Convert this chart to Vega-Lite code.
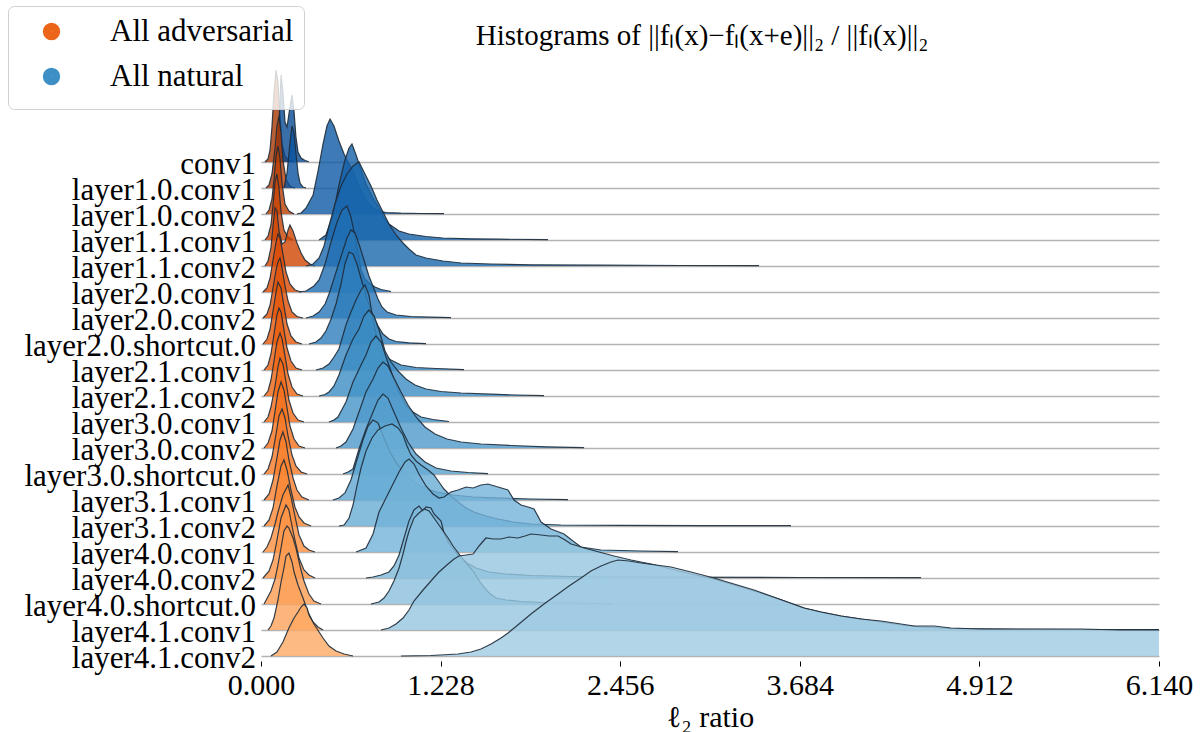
{
"$schema":"https://vega.github.io/schema/vega-lite/v6.json",
"background":"white",
"bounds":"flush",
"padding":{"left":7,"top":5,"right":10,"bottom":5},
"title":{"text":"Histograms of ||fₗ(x)−fₗ(x+e)||₂ / ||fₗ(x)||₂","font":"Liberation Serif","fontSize":29,"fontWeight":"normal","color":"black","anchor":"middle","offset":-45,"dx":102},
"data":{"values":[
{"l":"conv1","s":"a","x":0.027,"d":0},{"l":"conv1","s":"a","x":0.048,"d":3},{"l":"conv1","s":"a","x":0.062,"d":12},{"l":"conv1","s":"a","x":0.075,"d":35},{"l":"conv1","s":"a","x":0.089,"d":70},{"l":"conv1","s":"a","x":0.103,"d":92},{"l":"conv1","s":"a","x":0.116,"d":80},{"l":"conv1","s":"a","x":0.130,"d":45},{"l":"conv1","s":"a","x":0.144,"d":18},{"l":"conv1","s":"a","x":0.164,"d":6},{"l":"conv1","s":"a","x":0.191,"d":1.5},{"l":"conv1","s":"a","x":0.226,"d":0},
{"l":"conv1","s":"n","x":0.096,"d":0},{"l":"conv1","s":"n","x":0.116,"d":20},{"l":"conv1","s":"n","x":0.130,"d":60},{"l":"conv1","s":"n","x":0.137,"d":87},{"l":"conv1","s":"n","x":0.150,"d":70},{"l":"conv1","s":"n","x":0.164,"d":40},{"l":"conv1","s":"n","x":0.178,"d":35},{"l":"conv1","s":"n","x":0.198,"d":55},{"l":"conv1","s":"n","x":0.212,"d":67},{"l":"conv1","s":"n","x":0.226,"d":50},{"l":"conv1","s":"n","x":0.239,"d":25},{"l":"conv1","s":"n","x":0.253,"d":10},{"l":"conv1","s":"n","x":0.274,"d":4},{"l":"conv1","s":"n","x":0.301,"d":1.5},{"l":"conv1","s":"n","x":0.328,"d":0.3},
{"l":"layer1.0.conv1","s":"a","x":0.034,"d":0},{"l":"layer1.0.conv1","s":"a","x":0.055,"d":3},{"l":"layer1.0.conv1","s":"a","x":0.075,"d":14},{"l":"layer1.0.conv1","s":"a","x":0.096,"d":40},{"l":"layer1.0.conv1","s":"a","x":0.109,"d":62},{"l":"layer1.0.conv1","s":"a","x":0.123,"d":72},{"l":"layer1.0.conv1","s":"a","x":0.137,"d":55},{"l":"layer1.0.conv1","s":"a","x":0.150,"d":28},{"l":"layer1.0.conv1","s":"a","x":0.171,"d":9},{"l":"layer1.0.conv1","s":"a","x":0.198,"d":2},{"l":"layer1.0.conv1","s":"a","x":0.232,"d":0},
{"l":"layer1.0.conv1","s":"n","x":0.157,"d":0},{"l":"layer1.0.conv1","s":"n","x":0.178,"d":15},{"l":"layer1.0.conv1","s":"n","x":0.198,"d":45},{"l":"layer1.0.conv1","s":"n","x":0.212,"d":62},{"l":"layer1.0.conv1","s":"n","x":0.226,"d":55},{"l":"layer1.0.conv1","s":"n","x":0.239,"d":35},{"l":"layer1.0.conv1","s":"n","x":0.253,"d":15},{"l":"layer1.0.conv1","s":"n","x":0.267,"d":5},{"l":"layer1.0.conv1","s":"n","x":0.287,"d":1},{"l":"layer1.0.conv1","s":"n","x":0.308,"d":0},
{"l":"layer1.0.conv2","s":"a","x":0.034,"d":0},{"l":"layer1.0.conv2","s":"a","x":0.055,"d":4},{"l":"layer1.0.conv2","s":"a","x":0.075,"d":15},{"l":"layer1.0.conv2","s":"a","x":0.089,"d":35},{"l":"layer1.0.conv2","s":"a","x":0.103,"d":58},{"l":"layer1.0.conv2","s":"a","x":0.116,"d":68},{"l":"layer1.0.conv2","s":"a","x":0.130,"d":55},{"l":"layer1.0.conv2","s":"a","x":0.144,"d":30},{"l":"layer1.0.conv2","s":"a","x":0.164,"d":10},{"l":"layer1.0.conv2","s":"a","x":0.191,"d":3},{"l":"layer1.0.conv2","s":"a","x":0.226,"d":0},
{"l":"layer1.0.conv2","s":"n","x":0.246,"d":0},{"l":"layer1.0.conv2","s":"n","x":0.274,"d":1},{"l":"layer1.0.conv2","s":"n","x":0.308,"d":6},{"l":"layer1.0.conv2","s":"n","x":0.356,"d":19},{"l":"layer1.0.conv2","s":"n","x":0.390,"d":43},{"l":"layer1.0.conv2","s":"n","x":0.424,"d":70},{"l":"layer1.0.conv2","s":"n","x":0.451,"d":88},{"l":"layer1.0.conv2","s":"n","x":0.472,"d":95},{"l":"layer1.0.conv2","s":"n","x":0.499,"d":88},{"l":"layer1.0.conv2","s":"n","x":0.533,"d":73},{"l":"layer1.0.conv2","s":"n","x":0.568,"d":60},{"l":"layer1.0.conv2","s":"n","x":0.595,"d":52},{"l":"layer1.0.conv2","s":"n","x":0.629,"d":43},{"l":"layer1.0.conv2","s":"n","x":0.663,"d":30},{"l":"layer1.0.conv2","s":"n","x":0.697,"d":19},{"l":"layer1.0.conv2","s":"n","x":0.732,"d":11},{"l":"layer1.0.conv2","s":"n","x":0.766,"d":6},{"l":"layer1.0.conv2","s":"n","x":0.807,"d":3},{"l":"layer1.0.conv2","s":"n","x":0.855,"d":1.5},{"l":"layer1.0.conv2","s":"n","x":0.957,"d":0.8},{"l":"layer1.0.conv2","s":"n","x":1.094,"d":0.5},{"l":"layer1.0.conv2","s":"n","x":1.251,"d":0.3},
{"l":"layer1.1.conv1","s":"a","x":0.027,"d":0},{"l":"layer1.1.conv1","s":"a","x":0.048,"d":4},{"l":"layer1.1.conv1","s":"a","x":0.068,"d":15},{"l":"layer1.1.conv1","s":"a","x":0.082,"d":35},{"l":"layer1.1.conv1","s":"a","x":0.096,"d":58},{"l":"layer1.1.conv1","s":"a","x":0.109,"d":66},{"l":"layer1.1.conv1","s":"a","x":0.123,"d":52},{"l":"layer1.1.conv1","s":"a","x":0.137,"d":28},{"l":"layer1.1.conv1","s":"a","x":0.157,"d":10},{"l":"layer1.1.conv1","s":"a","x":0.185,"d":3},{"l":"layer1.1.conv1","s":"a","x":0.219,"d":0},
{"l":"layer1.1.conv1","s":"n","x":0.397,"d":0},{"l":"layer1.1.conv1","s":"n","x":0.444,"d":5},{"l":"layer1.1.conv1","s":"n","x":0.492,"d":25},{"l":"layer1.1.conv1","s":"n","x":0.533,"d":55},{"l":"layer1.1.conv1","s":"n","x":0.574,"d":80},{"l":"layer1.1.conv1","s":"n","x":0.602,"d":92},{"l":"layer1.1.conv1","s":"n","x":0.622,"d":96},{"l":"layer1.1.conv1","s":"n","x":0.650,"d":85},{"l":"layer1.1.conv1","s":"n","x":0.684,"d":70},{"l":"layer1.1.conv1","s":"n","x":0.718,"d":56},{"l":"layer1.1.conv1","s":"n","x":0.766,"d":42},{"l":"layer1.1.conv1","s":"n","x":0.807,"d":32},{"l":"layer1.1.conv1","s":"n","x":0.841,"d":22},{"l":"layer1.1.conv1","s":"n","x":0.875,"d":16},{"l":"layer1.1.conv1","s":"n","x":0.944,"d":9},{"l":"layer1.1.conv1","s":"n","x":1.012,"d":6},{"l":"layer1.1.conv1","s":"n","x":1.128,"d":3.5},{"l":"layer1.1.conv1","s":"n","x":1.244,"d":2},{"l":"layer1.1.conv1","s":"n","x":1.436,"d":1.2},{"l":"layer1.1.conv1","s":"n","x":1.641,"d":0.8},{"l":"layer1.1.conv1","s":"n","x":1.962,"d":0.3},
{"l":"layer1.1.conv2","s":"a","x":0.027,"d":0},{"l":"layer1.1.conv2","s":"a","x":0.048,"d":5},{"l":"layer1.1.conv2","s":"a","x":0.068,"d":18},{"l":"layer1.1.conv2","s":"a","x":0.082,"d":40},{"l":"layer1.1.conv2","s":"a","x":0.096,"d":58},{"l":"layer1.1.conv2","s":"a","x":0.109,"d":55},{"l":"layer1.1.conv2","s":"a","x":0.123,"d":35},{"l":"layer1.1.conv2","s":"a","x":0.144,"d":22},{"l":"layer1.1.conv2","s":"a","x":0.164,"d":24},{"l":"layer1.1.conv2","s":"a","x":0.185,"d":36},{"l":"layer1.1.conv2","s":"a","x":0.198,"d":41},{"l":"layer1.1.conv2","s":"a","x":0.219,"d":35},{"l":"layer1.1.conv2","s":"a","x":0.246,"d":23},{"l":"layer1.1.conv2","s":"a","x":0.274,"d":13},{"l":"layer1.1.conv2","s":"a","x":0.301,"d":6},{"l":"layer1.1.conv2","s":"a","x":0.335,"d":2},{"l":"layer1.1.conv2","s":"a","x":0.369,"d":0},
{"l":"layer1.1.conv2","s":"n","x":0.308,"d":0},{"l":"layer1.1.conv2","s":"n","x":0.356,"d":2},{"l":"layer1.1.conv2","s":"n","x":0.397,"d":8},{"l":"layer1.1.conv2","s":"n","x":0.431,"d":20},{"l":"layer1.1.conv2","s":"n","x":0.465,"d":40},{"l":"layer1.1.conv2","s":"n","x":0.506,"d":62},{"l":"layer1.1.conv2","s":"n","x":0.547,"d":80},{"l":"layer1.1.conv2","s":"n","x":0.588,"d":92},{"l":"layer1.1.conv2","s":"n","x":0.629,"d":100},{"l":"layer1.1.conv2","s":"n","x":0.670,"d":104},{"l":"layer1.1.conv2","s":"n","x":0.711,"d":92},{"l":"layer1.1.conv2","s":"n","x":0.752,"d":80},{"l":"layer1.1.conv2","s":"n","x":0.793,"d":66},{"l":"layer1.1.conv2","s":"n","x":0.834,"d":54},{"l":"layer1.1.conv2","s":"n","x":0.875,"d":42},{"l":"layer1.1.conv2","s":"n","x":0.923,"d":31},{"l":"layer1.1.conv2","s":"n","x":0.971,"d":23},{"l":"layer1.1.conv2","s":"n","x":1.012,"d":17},{"l":"layer1.1.conv2","s":"n","x":1.060,"d":11},{"l":"layer1.1.conv2","s":"n","x":1.128,"d":8},{"l":"layer1.1.conv2","s":"n","x":1.244,"d":5},{"l":"layer1.1.conv2","s":"n","x":1.368,"d":3},{"l":"layer1.1.conv2","s":"n","x":1.573,"d":2},{"l":"layer1.1.conv2","s":"n","x":1.846,"d":1.2},{"l":"layer1.1.conv2","s":"n","x":2.325,"d":0.8},{"l":"layer1.1.conv2","s":"n","x":2.872,"d":0.5},{"l":"layer1.1.conv2","s":"n","x":3.405,"d":0.3},
{"l":"layer2.0.conv1","s":"a","x":0.014,"d":0},{"l":"layer2.0.conv1","s":"a","x":0.041,"d":4},{"l":"layer2.0.conv1","s":"a","x":0.062,"d":14},{"l":"layer2.0.conv1","s":"a","x":0.082,"d":32},{"l":"layer2.0.conv1","s":"a","x":0.103,"d":50},{"l":"layer2.0.conv1","s":"a","x":0.116,"d":58},{"l":"layer2.0.conv1","s":"a","x":0.130,"d":54},{"l":"layer2.0.conv1","s":"a","x":0.150,"d":38},{"l":"layer2.0.conv1","s":"a","x":0.171,"d":20},{"l":"layer2.0.conv1","s":"a","x":0.198,"d":8},{"l":"layer2.0.conv1","s":"a","x":0.232,"d":2},{"l":"layer2.0.conv1","s":"a","x":0.274,"d":0},
{"l":"layer2.0.conv1","s":"n","x":0.260,"d":0},{"l":"layer2.0.conv1","s":"n","x":0.308,"d":1},{"l":"layer2.0.conv1","s":"n","x":0.362,"d":6},{"l":"layer2.0.conv1","s":"n","x":0.397,"d":12},{"l":"layer2.0.conv1","s":"n","x":0.438,"d":28},{"l":"layer2.0.conv1","s":"n","x":0.479,"d":50},{"l":"layer2.0.conv1","s":"n","x":0.520,"d":70},{"l":"layer2.0.conv1","s":"n","x":0.554,"d":82},{"l":"layer2.0.conv1","s":"n","x":0.588,"d":86},{"l":"layer2.0.conv1","s":"n","x":0.615,"d":75},{"l":"layer2.0.conv1","s":"n","x":0.643,"d":55},{"l":"layer2.0.conv1","s":"n","x":0.663,"d":38},{"l":"layer2.0.conv1","s":"n","x":0.684,"d":22},{"l":"layer2.0.conv1","s":"n","x":0.711,"d":13},{"l":"layer2.0.conv1","s":"n","x":0.738,"d":9},{"l":"layer2.0.conv1","s":"n","x":0.779,"d":5},{"l":"layer2.0.conv1","s":"n","x":0.821,"d":2.5},{"l":"layer2.0.conv1","s":"n","x":0.889,"d":0.5},
{"l":"layer2.0.conv2","s":"a","x":0.014,"d":0},{"l":"layer2.0.conv2","s":"a","x":0.041,"d":4},{"l":"layer2.0.conv2","s":"a","x":0.062,"d":13},{"l":"layer2.0.conv2","s":"a","x":0.082,"d":30},{"l":"layer2.0.conv2","s":"a","x":0.103,"d":48},{"l":"layer2.0.conv2","s":"a","x":0.116,"d":56},{"l":"layer2.0.conv2","s":"a","x":0.130,"d":60},{"l":"layer2.0.conv2","s":"a","x":0.144,"d":50},{"l":"layer2.0.conv2","s":"a","x":0.164,"d":32},{"l":"layer2.0.conv2","s":"a","x":0.185,"d":17},{"l":"layer2.0.conv2","s":"a","x":0.212,"d":6},{"l":"layer2.0.conv2","s":"a","x":0.246,"d":1.5},{"l":"layer2.0.conv2","s":"a","x":0.287,"d":0},
{"l":"layer2.0.conv2","s":"n","x":0.308,"d":0},{"l":"layer2.0.conv2","s":"n","x":0.356,"d":2},{"l":"layer2.0.conv2","s":"n","x":0.397,"d":6},{"l":"layer2.0.conv2","s":"n","x":0.438,"d":14},{"l":"layer2.0.conv2","s":"n","x":0.465,"d":24},{"l":"layer2.0.conv2","s":"n","x":0.492,"d":36},{"l":"layer2.0.conv2","s":"n","x":0.526,"d":52},{"l":"layer2.0.conv2","s":"n","x":0.561,"d":68},{"l":"layer2.0.conv2","s":"n","x":0.588,"d":80},{"l":"layer2.0.conv2","s":"n","x":0.615,"d":88},{"l":"layer2.0.conv2","s":"n","x":0.643,"d":85},{"l":"layer2.0.conv2","s":"n","x":0.670,"d":74},{"l":"layer2.0.conv2","s":"n","x":0.704,"d":58},{"l":"layer2.0.conv2","s":"n","x":0.738,"d":42},{"l":"layer2.0.conv2","s":"n","x":0.773,"d":29},{"l":"layer2.0.conv2","s":"n","x":0.800,"d":19},{"l":"layer2.0.conv2","s":"n","x":0.827,"d":11},{"l":"layer2.0.conv2","s":"n","x":0.862,"d":6},{"l":"layer2.0.conv2","s":"n","x":0.923,"d":3},{"l":"layer2.0.conv2","s":"n","x":1.026,"d":1.5},{"l":"layer2.0.conv2","s":"n","x":1.162,"d":0.8},{"l":"layer2.0.conv2","s":"n","x":1.299,"d":0.4},
{"l":"layer2.0.shortcut.0","s":"a","x":0.014,"d":0},{"l":"layer2.0.shortcut.0","s":"a","x":0.041,"d":5},{"l":"layer2.0.shortcut.0","s":"a","x":0.062,"d":15},{"l":"layer2.0.shortcut.0","s":"a","x":0.082,"d":33},{"l":"layer2.0.shortcut.0","s":"a","x":0.103,"d":52},{"l":"layer2.0.shortcut.0","s":"a","x":0.116,"d":62},{"l":"layer2.0.shortcut.0","s":"a","x":0.137,"d":56},{"l":"layer2.0.shortcut.0","s":"a","x":0.157,"d":38},{"l":"layer2.0.shortcut.0","s":"a","x":0.178,"d":20},{"l":"layer2.0.shortcut.0","s":"a","x":0.205,"d":8},{"l":"layer2.0.shortcut.0","s":"a","x":0.239,"d":2},{"l":"layer2.0.shortcut.0","s":"a","x":0.280,"d":0},
{"l":"layer2.0.shortcut.0","s":"n","x":0.328,"d":0},{"l":"layer2.0.shortcut.0","s":"n","x":0.376,"d":2},{"l":"layer2.0.shortcut.0","s":"n","x":0.410,"d":6},{"l":"layer2.0.shortcut.0","s":"n","x":0.444,"d":13},{"l":"layer2.0.shortcut.0","s":"n","x":0.479,"d":25},{"l":"layer2.0.shortcut.0","s":"n","x":0.513,"d":40},{"l":"layer2.0.shortcut.0","s":"n","x":0.547,"d":60},{"l":"layer2.0.shortcut.0","s":"n","x":0.574,"d":80},{"l":"layer2.0.shortcut.0","s":"n","x":0.602,"d":92},{"l":"layer2.0.shortcut.0","s":"n","x":0.629,"d":90},{"l":"layer2.0.shortcut.0","s":"n","x":0.656,"d":80},{"l":"layer2.0.shortcut.0","s":"n","x":0.691,"d":62},{"l":"layer2.0.shortcut.0","s":"n","x":0.725,"d":45},{"l":"layer2.0.shortcut.0","s":"n","x":0.759,"d":31},{"l":"layer2.0.shortcut.0","s":"n","x":0.800,"d":18},{"l":"layer2.0.shortcut.0","s":"n","x":0.834,"d":10},{"l":"layer2.0.shortcut.0","s":"n","x":0.875,"d":5},{"l":"layer2.0.shortcut.0","s":"n","x":0.923,"d":2.5},{"l":"layer2.0.shortcut.0","s":"n","x":1.012,"d":1.2},{"l":"layer2.0.shortcut.0","s":"n","x":1.128,"d":0.4},
{"l":"layer2.1.conv1","s":"a","x":0.021,"d":0},{"l":"layer2.1.conv1","s":"a","x":0.048,"d":5},{"l":"layer2.1.conv1","s":"a","x":0.068,"d":16},{"l":"layer2.1.conv1","s":"a","x":0.089,"d":36},{"l":"layer2.1.conv1","s":"a","x":0.109,"d":55},{"l":"layer2.1.conv1","s":"a","x":0.123,"d":62},{"l":"layer2.1.conv1","s":"a","x":0.137,"d":58},{"l":"layer2.1.conv1","s":"a","x":0.157,"d":40},{"l":"layer2.1.conv1","s":"a","x":0.178,"d":22},{"l":"layer2.1.conv1","s":"a","x":0.205,"d":9},{"l":"layer2.1.conv1","s":"a","x":0.239,"d":2},{"l":"layer2.1.conv1","s":"a","x":0.280,"d":0},
{"l":"layer2.1.conv1","s":"n","x":0.376,"d":0},{"l":"layer2.1.conv1","s":"n","x":0.424,"d":2},{"l":"layer2.1.conv1","s":"n","x":0.465,"d":6},{"l":"layer2.1.conv1","s":"n","x":0.499,"d":13},{"l":"layer2.1.conv1","s":"n","x":0.533,"d":21},{"l":"layer2.1.conv1","s":"n","x":0.581,"d":45},{"l":"layer2.1.conv1","s":"n","x":0.615,"d":58},{"l":"layer2.1.conv1","s":"n","x":0.650,"d":70},{"l":"layer2.1.conv1","s":"n","x":0.684,"d":80},{"l":"layer2.1.conv1","s":"n","x":0.711,"d":85},{"l":"layer2.1.conv1","s":"n","x":0.738,"d":75},{"l":"layer2.1.conv1","s":"n","x":0.766,"d":50},{"l":"layer2.1.conv1","s":"n","x":0.793,"d":32},{"l":"layer2.1.conv1","s":"n","x":0.821,"d":20},{"l":"layer2.1.conv1","s":"n","x":0.855,"d":13},{"l":"layer2.1.conv1","s":"n","x":0.889,"d":10},{"l":"layer2.1.conv1","s":"n","x":0.957,"d":5},{"l":"layer2.1.conv1","s":"n","x":1.060,"d":2.5},{"l":"layer2.1.conv1","s":"n","x":1.197,"d":1.5},{"l":"layer2.1.conv1","s":"n","x":1.388,"d":0.4},
{"l":"layer2.1.conv2","s":"a","x":0.021,"d":0},{"l":"layer2.1.conv2","s":"a","x":0.048,"d":5},{"l":"layer2.1.conv2","s":"a","x":0.068,"d":16},{"l":"layer2.1.conv2","s":"a","x":0.089,"d":35},{"l":"layer2.1.conv2","s":"a","x":0.109,"d":54},{"l":"layer2.1.conv2","s":"a","x":0.130,"d":63},{"l":"layer2.1.conv2","s":"a","x":0.144,"d":57},{"l":"layer2.1.conv2","s":"a","x":0.164,"d":40},{"l":"layer2.1.conv2","s":"a","x":0.185,"d":22},{"l":"layer2.1.conv2","s":"a","x":0.212,"d":9},{"l":"layer2.1.conv2","s":"a","x":0.246,"d":2},{"l":"layer2.1.conv2","s":"a","x":0.287,"d":0},
{"l":"layer2.1.conv2","s":"n","x":0.397,"d":0},{"l":"layer2.1.conv2","s":"n","x":0.438,"d":1.5},{"l":"layer2.1.conv2","s":"n","x":0.465,"d":4},{"l":"layer2.1.conv2","s":"n","x":0.499,"d":10},{"l":"layer2.1.conv2","s":"n","x":0.533,"d":21},{"l":"layer2.1.conv2","s":"n","x":0.581,"d":41},{"l":"layer2.1.conv2","s":"n","x":0.629,"d":57},{"l":"layer2.1.conv2","s":"n","x":0.670,"d":67},{"l":"layer2.1.conv2","s":"n","x":0.704,"d":80},{"l":"layer2.1.conv2","s":"n","x":0.738,"d":86},{"l":"layer2.1.conv2","s":"n","x":0.773,"d":80},{"l":"layer2.1.conv2","s":"n","x":0.807,"d":66},{"l":"layer2.1.conv2","s":"n","x":0.848,"d":45},{"l":"layer2.1.conv2","s":"n","x":0.889,"d":34},{"l":"layer2.1.conv2","s":"n","x":0.937,"d":25},{"l":"layer2.1.conv2","s":"n","x":0.991,"d":17},{"l":"layer2.1.conv2","s":"n","x":1.053,"d":11},{"l":"layer2.1.conv2","s":"n","x":1.128,"d":7},{"l":"layer2.1.conv2","s":"n","x":1.231,"d":4.5},{"l":"layer2.1.conv2","s":"n","x":1.368,"d":3},{"l":"layer2.1.conv2","s":"n","x":1.573,"d":1.8},{"l":"layer2.1.conv2","s":"n","x":1.744,"d":1},{"l":"layer2.1.conv2","s":"n","x":1.935,"d":0.4},
{"l":"layer3.0.conv1","s":"a","x":0.021,"d":0},{"l":"layer3.0.conv1","s":"a","x":0.048,"d":5},{"l":"layer3.0.conv1","s":"a","x":0.068,"d":15},{"l":"layer3.0.conv1","s":"a","x":0.096,"d":36},{"l":"layer3.0.conv1","s":"a","x":0.116,"d":55},{"l":"layer3.0.conv1","s":"a","x":0.130,"d":64},{"l":"layer3.0.conv1","s":"a","x":0.150,"d":58},{"l":"layer3.0.conv1","s":"a","x":0.171,"d":40},{"l":"layer3.0.conv1","s":"a","x":0.191,"d":22},{"l":"layer3.0.conv1","s":"a","x":0.219,"d":9},{"l":"layer3.0.conv1","s":"a","x":0.253,"d":2},{"l":"layer3.0.conv1","s":"a","x":0.294,"d":0},
{"l":"layer3.0.conv1","s":"n","x":0.465,"d":0},{"l":"layer3.0.conv1","s":"n","x":0.499,"d":2},{"l":"layer3.0.conv1","s":"n","x":0.526,"d":5},{"l":"layer3.0.conv1","s":"n","x":0.581,"d":20},{"l":"layer3.0.conv1","s":"n","x":0.629,"d":40},{"l":"layer3.0.conv1","s":"n","x":0.684,"d":57},{"l":"layer3.0.conv1","s":"n","x":0.718,"d":67},{"l":"layer3.0.conv1","s":"n","x":0.752,"d":80},{"l":"layer3.0.conv1","s":"n","x":0.786,"d":86},{"l":"layer3.0.conv1","s":"n","x":0.821,"d":80},{"l":"layer3.0.conv1","s":"n","x":0.862,"d":62},{"l":"layer3.0.conv1","s":"n","x":0.903,"d":45},{"l":"layer3.0.conv1","s":"n","x":0.944,"d":30},{"l":"layer3.0.conv1","s":"n","x":0.991,"d":17},{"l":"layer3.0.conv1","s":"n","x":1.039,"d":10},{"l":"layer3.0.conv1","s":"n","x":1.094,"d":5},{"l":"layer3.0.conv1","s":"n","x":1.176,"d":2.5},{"l":"layer3.0.conv1","s":"n","x":1.285,"d":0.5},
{"l":"layer3.0.conv2","s":"a","x":0.021,"d":0},{"l":"layer3.0.conv2","s":"a","x":0.048,"d":5},{"l":"layer3.0.conv2","s":"a","x":0.075,"d":17},{"l":"layer3.0.conv2","s":"a","x":0.096,"d":37},{"l":"layer3.0.conv2","s":"a","x":0.116,"d":56},{"l":"layer3.0.conv2","s":"a","x":0.137,"d":66},{"l":"layer3.0.conv2","s":"a","x":0.157,"d":58},{"l":"layer3.0.conv2","s":"a","x":0.178,"d":40},{"l":"layer3.0.conv2","s":"a","x":0.198,"d":22},{"l":"layer3.0.conv2","s":"a","x":0.226,"d":9},{"l":"layer3.0.conv2","s":"a","x":0.260,"d":2},{"l":"layer3.0.conv2","s":"a","x":0.301,"d":0},
{"l":"layer3.0.conv2","s":"n","x":0.513,"d":0},{"l":"layer3.0.conv2","s":"n","x":0.547,"d":2},{"l":"layer3.0.conv2","s":"n","x":0.581,"d":6},{"l":"layer3.0.conv2","s":"n","x":0.629,"d":19},{"l":"layer3.0.conv2","s":"n","x":0.670,"d":36},{"l":"layer3.0.conv2","s":"n","x":0.718,"d":56},{"l":"layer3.0.conv2","s":"n","x":0.766,"d":69},{"l":"layer3.0.conv2","s":"n","x":0.800,"d":80},{"l":"layer3.0.conv2","s":"n","x":0.834,"d":86},{"l":"layer3.0.conv2","s":"n","x":0.868,"d":82},{"l":"layer3.0.conv2","s":"n","x":0.909,"d":70},{"l":"layer3.0.conv2","s":"n","x":0.957,"d":56},{"l":"layer3.0.conv2","s":"n","x":1.005,"d":43},{"l":"layer3.0.conv2","s":"n","x":1.060,"d":31},{"l":"layer3.0.conv2","s":"n","x":1.121,"d":21},{"l":"layer3.0.conv2","s":"n","x":1.190,"d":14},{"l":"layer3.0.conv2","s":"n","x":1.272,"d":9},{"l":"layer3.0.conv2","s":"n","x":1.368,"d":6},{"l":"layer3.0.conv2","s":"n","x":1.504,"d":4},{"l":"layer3.0.conv2","s":"n","x":1.709,"d":2.5},{"l":"layer3.0.conv2","s":"n","x":1.949,"d":1.2},{"l":"layer3.0.conv2","s":"n","x":2.209,"d":0.4},
{"l":"layer3.0.shortcut.0","s":"a","x":0.021,"d":0},{"l":"layer3.0.shortcut.0","s":"a","x":0.048,"d":5},{"l":"layer3.0.shortcut.0","s":"a","x":0.075,"d":17},{"l":"layer3.0.shortcut.0","s":"a","x":0.103,"d":40},{"l":"layer3.0.shortcut.0","s":"a","x":0.123,"d":58},{"l":"layer3.0.shortcut.0","s":"a","x":0.144,"d":65},{"l":"layer3.0.shortcut.0","s":"a","x":0.164,"d":56},{"l":"layer3.0.shortcut.0","s":"a","x":0.185,"d":38},{"l":"layer3.0.shortcut.0","s":"a","x":0.212,"d":19},{"l":"layer3.0.shortcut.0","s":"a","x":0.239,"d":8},{"l":"layer3.0.shortcut.0","s":"a","x":0.274,"d":2},{"l":"layer3.0.shortcut.0","s":"a","x":0.315,"d":0},
{"l":"layer3.0.shortcut.0","s":"n","x":0.561,"d":0},{"l":"layer3.0.shortcut.0","s":"n","x":0.595,"d":2},{"l":"layer3.0.shortcut.0","s":"n","x":0.629,"d":5},{"l":"layer3.0.shortcut.0","s":"n","x":0.670,"d":25},{"l":"layer3.0.shortcut.0","s":"n","x":0.718,"d":45},{"l":"layer3.0.shortcut.0","s":"n","x":0.766,"d":62},{"l":"layer3.0.shortcut.0","s":"n","x":0.800,"d":74},{"l":"layer3.0.shortcut.0","s":"n","x":0.834,"d":80},{"l":"layer3.0.shortcut.0","s":"n","x":0.868,"d":76},{"l":"layer3.0.shortcut.0","s":"n","x":0.909,"d":62},{"l":"layer3.0.shortcut.0","s":"n","x":0.957,"d":46},{"l":"layer3.0.shortcut.0","s":"n","x":1.005,"d":32},{"l":"layer3.0.shortcut.0","s":"n","x":1.060,"d":20},{"l":"layer3.0.shortcut.0","s":"n","x":1.121,"d":12},{"l":"layer3.0.shortcut.0","s":"n","x":1.197,"d":6},{"l":"layer3.0.shortcut.0","s":"n","x":1.299,"d":3},{"l":"layer3.0.shortcut.0","s":"n","x":1.415,"d":1.5},{"l":"layer3.0.shortcut.0","s":"n","x":1.552,"d":0.4},
{"l":"layer3.1.conv1","s":"a","x":0.021,"d":0},{"l":"layer3.1.conv1","s":"a","x":0.055,"d":6},{"l":"layer3.1.conv1","s":"a","x":0.082,"d":20},{"l":"layer3.1.conv1","s":"a","x":0.109,"d":42},{"l":"layer3.1.conv1","s":"a","x":0.130,"d":60},{"l":"layer3.1.conv1","s":"a","x":0.150,"d":68},{"l":"layer3.1.conv1","s":"a","x":0.171,"d":58},{"l":"layer3.1.conv1","s":"a","x":0.191,"d":40},{"l":"layer3.1.conv1","s":"a","x":0.219,"d":22},{"l":"layer3.1.conv1","s":"a","x":0.246,"d":10},{"l":"layer3.1.conv1","s":"a","x":0.280,"d":3},{"l":"layer3.1.conv1","s":"a","x":0.328,"d":0},
{"l":"layer3.1.conv1","s":"n","x":0.492,"d":0},{"l":"layer3.1.conv1","s":"n","x":0.533,"d":2},{"l":"layer3.1.conv1","s":"n","x":0.574,"d":7},{"l":"layer3.1.conv1","s":"n","x":0.615,"d":20},{"l":"layer3.1.conv1","s":"n","x":0.656,"d":40},{"l":"layer3.1.conv1","s":"n","x":0.697,"d":60},{"l":"layer3.1.conv1","s":"n","x":0.732,"d":74},{"l":"layer3.1.conv1","s":"n","x":0.766,"d":80},{"l":"layer3.1.conv1","s":"n","x":0.800,"d":77},{"l":"layer3.1.conv1","s":"n","x":0.841,"d":62},{"l":"layer3.1.conv1","s":"n","x":0.882,"d":48},{"l":"layer3.1.conv1","s":"n","x":0.930,"d":36},{"l":"layer3.1.conv1","s":"n","x":0.985,"d":26},{"l":"layer3.1.conv1","s":"n","x":1.046,"d":18},{"l":"layer3.1.conv1","s":"n","x":1.115,"d":12},{"l":"layer3.1.conv1","s":"n","x":1.203,"d":8},{"l":"layer3.1.conv1","s":"n","x":1.313,"d":5},{"l":"layer3.1.conv1","s":"n","x":1.450,"d":3},{"l":"layer3.1.conv1","s":"n","x":1.641,"d":1.8},{"l":"layer3.1.conv1","s":"n","x":1.846,"d":1},{"l":"layer3.1.conv1","s":"n","x":2.099,"d":0.4},
{"l":"layer3.1.conv2","s":"a","x":0.021,"d":0},{"l":"layer3.1.conv2","s":"a","x":0.055,"d":6},{"l":"layer3.1.conv2","s":"a","x":0.082,"d":18},{"l":"layer3.1.conv2","s":"a","x":0.109,"d":40},{"l":"layer3.1.conv2","s":"a","x":0.137,"d":60},{"l":"layer3.1.conv2","s":"a","x":0.157,"d":66},{"l":"layer3.1.conv2","s":"a","x":0.178,"d":56},{"l":"layer3.1.conv2","s":"a","x":0.205,"d":36},{"l":"layer3.1.conv2","s":"a","x":0.232,"d":19},{"l":"layer3.1.conv2","s":"a","x":0.260,"d":9},{"l":"layer3.1.conv2","s":"a","x":0.294,"d":3},{"l":"layer3.1.conv2","s":"a","x":0.342,"d":0},
{"l":"layer3.1.conv2","s":"n","x":0.533,"d":0},{"l":"layer3.1.conv2","s":"n","x":0.568,"d":1},{"l":"layer3.1.conv2","s":"n","x":0.602,"d":8},{"l":"layer3.1.conv2","s":"n","x":0.629,"d":21},{"l":"layer3.1.conv2","s":"n","x":0.656,"d":40},{"l":"layer3.1.conv2","s":"n","x":0.684,"d":58},{"l":"layer3.1.conv2","s":"n","x":0.718,"d":75},{"l":"layer3.1.conv2","s":"n","x":0.759,"d":88},{"l":"layer3.1.conv2","s":"n","x":0.800,"d":96},{"l":"layer3.1.conv2","s":"n","x":0.848,"d":100},{"l":"layer3.1.conv2","s":"n","x":0.896,"d":102},{"l":"layer3.1.conv2","s":"n","x":0.937,"d":98},{"l":"layer3.1.conv2","s":"n","x":0.971,"d":91},{"l":"layer3.1.conv2","s":"n","x":0.998,"d":80},{"l":"layer3.1.conv2","s":"n","x":1.026,"d":71},{"l":"layer3.1.conv2","s":"n","x":1.060,"d":65},{"l":"layer3.1.conv2","s":"n","x":1.094,"d":61},{"l":"layer3.1.conv2","s":"n","x":1.142,"d":56},{"l":"layer3.1.conv2","s":"n","x":1.183,"d":51},{"l":"layer3.1.conv2","s":"n","x":1.217,"d":44},{"l":"layer3.1.conv2","s":"n","x":1.251,"d":37},{"l":"layer3.1.conv2","s":"n","x":1.299,"d":30},{"l":"layer3.1.conv2","s":"n","x":1.347,"d":24},{"l":"layer3.1.conv2","s":"n","x":1.402,"d":18},{"l":"layer3.1.conv2","s":"n","x":1.456,"d":14},{"l":"layer3.1.conv2","s":"n","x":1.538,"d":10},{"l":"layer3.1.conv2","s":"n","x":1.620,"d":7},{"l":"layer3.1.conv2","s":"n","x":1.723,"d":4},{"l":"layer3.1.conv2","s":"n","x":1.846,"d":2},{"l":"layer3.1.conv2","s":"n","x":2.051,"d":1},{"l":"layer3.1.conv2","s":"n","x":2.462,"d":0.6},{"l":"layer3.1.conv2","s":"n","x":3.009,"d":0.4},{"l":"layer3.1.conv2","s":"n","x":3.624,"d":0.3},
{"l":"layer4.0.conv1","s":"a","x":0.014,"d":0},{"l":"layer4.0.conv1","s":"a","x":0.041,"d":5},{"l":"layer4.0.conv1","s":"a","x":0.068,"d":14},{"l":"layer4.0.conv1","s":"a","x":0.096,"d":28},{"l":"layer4.0.conv1","s":"a","x":0.116,"d":40},{"l":"layer4.0.conv1","s":"a","x":0.150,"d":57},{"l":"layer4.0.conv1","s":"a","x":0.185,"d":67},{"l":"layer4.0.conv1","s":"a","x":0.205,"d":55},{"l":"layer4.0.conv1","s":"a","x":0.232,"d":36},{"l":"layer4.0.conv1","s":"a","x":0.260,"d":17},{"l":"layer4.0.conv1","s":"a","x":0.294,"d":6},{"l":"layer4.0.conv1","s":"a","x":0.328,"d":2},{"l":"layer4.0.conv1","s":"a","x":0.369,"d":0},
{"l":"layer4.0.conv1","s":"n","x":0.650,"d":0},{"l":"layer4.0.conv1","s":"n","x":0.718,"d":4},{"l":"layer4.0.conv1","s":"n","x":0.766,"d":18},{"l":"layer4.0.conv1","s":"n","x":0.807,"d":40},{"l":"layer4.0.conv1","s":"n","x":0.875,"d":60},{"l":"layer4.0.conv1","s":"n","x":0.944,"d":80},{"l":"layer4.0.conv1","s":"n","x":0.985,"d":90},{"l":"layer4.0.conv1","s":"n","x":1.012,"d":93},{"l":"layer4.0.conv1","s":"n","x":1.046,"d":88},{"l":"layer4.0.conv1","s":"n","x":1.080,"d":78},{"l":"layer4.0.conv1","s":"n","x":1.128,"d":66},{"l":"layer4.0.conv1","s":"n","x":1.176,"d":58},{"l":"layer4.0.conv1","s":"n","x":1.217,"d":54},{"l":"layer4.0.conv1","s":"n","x":1.251,"d":55},{"l":"layer4.0.conv1","s":"n","x":1.299,"d":60},{"l":"layer4.0.conv1","s":"n","x":1.347,"d":62},{"l":"layer4.0.conv1","s":"n","x":1.402,"d":65},{"l":"layer4.0.conv1","s":"n","x":1.450,"d":64},{"l":"layer4.0.conv1","s":"n","x":1.504,"d":67},{"l":"layer4.0.conv1","s":"n","x":1.552,"d":68},{"l":"layer4.0.conv1","s":"n","x":1.620,"d":65},{"l":"layer4.0.conv1","s":"n","x":1.689,"d":62},{"l":"layer4.0.conv1","s":"n","x":1.730,"d":52},{"l":"layer4.0.conv1","s":"n","x":1.778,"d":47},{"l":"layer4.0.conv1","s":"n","x":1.826,"d":45},{"l":"layer4.0.conv1","s":"n","x":1.867,"d":43},{"l":"layer4.0.conv1","s":"n","x":1.915,"d":30},{"l":"layer4.0.conv1","s":"n","x":1.983,"d":23},{"l":"layer4.0.conv1","s":"n","x":2.072,"d":18},{"l":"layer4.0.conv1","s":"n","x":2.133,"d":11},{"l":"layer4.0.conv1","s":"n","x":2.188,"d":5},{"l":"layer4.0.conv1","s":"n","x":2.325,"d":2},{"l":"layer4.0.conv1","s":"n","x":2.598,"d":1},{"l":"layer4.0.conv1","s":"n","x":2.851,"d":0.4},
{"l":"layer4.0.conv2","s":"a","x":0.014,"d":0},{"l":"layer4.0.conv2","s":"a","x":0.055,"d":7},{"l":"layer4.0.conv2","s":"a","x":0.082,"d":18},{"l":"layer4.0.conv2","s":"a","x":0.103,"d":33},{"l":"layer4.0.conv2","s":"a","x":0.137,"d":60},{"l":"layer4.0.conv2","s":"a","x":0.171,"d":73},{"l":"layer4.0.conv2","s":"a","x":0.191,"d":68},{"l":"layer4.0.conv2","s":"a","x":0.205,"d":57},{"l":"layer4.0.conv2","s":"a","x":0.232,"d":38},{"l":"layer4.0.conv2","s":"a","x":0.260,"d":20},{"l":"layer4.0.conv2","s":"a","x":0.294,"d":8},{"l":"layer4.0.conv2","s":"a","x":0.328,"d":3},{"l":"layer4.0.conv2","s":"a","x":0.369,"d":0},
{"l":"layer4.0.conv2","s":"n","x":0.718,"d":0},{"l":"layer4.0.conv2","s":"n","x":0.766,"d":1},{"l":"layer4.0.conv2","s":"n","x":0.821,"d":3},{"l":"layer4.0.conv2","s":"n","x":0.875,"d":6},{"l":"layer4.0.conv2","s":"n","x":0.909,"d":12},{"l":"layer4.0.conv2","s":"n","x":0.944,"d":23},{"l":"layer4.0.conv2","s":"n","x":0.978,"d":40},{"l":"layer4.0.conv2","s":"n","x":1.012,"d":57},{"l":"layer4.0.conv2","s":"n","x":1.046,"d":68},{"l":"layer4.0.conv2","s":"n","x":1.080,"d":72},{"l":"layer4.0.conv2","s":"n","x":1.108,"d":67},{"l":"layer4.0.conv2","s":"n","x":1.128,"d":71},{"l":"layer4.0.conv2","s":"n","x":1.162,"d":70},{"l":"layer4.0.conv2","s":"n","x":1.183,"d":64},{"l":"layer4.0.conv2","s":"n","x":1.210,"d":60},{"l":"layer4.0.conv2","s":"n","x":1.231,"d":57},{"l":"layer4.0.conv2","s":"n","x":1.251,"d":45},{"l":"layer4.0.conv2","s":"n","x":1.279,"d":36},{"l":"layer4.0.conv2","s":"n","x":1.313,"d":29},{"l":"layer4.0.conv2","s":"n","x":1.354,"d":22},{"l":"layer4.0.conv2","s":"n","x":1.409,"d":15},{"l":"layer4.0.conv2","s":"n","x":1.470,"d":10},{"l":"layer4.0.conv2","s":"n","x":1.559,"d":6},{"l":"layer4.0.conv2","s":"n","x":1.675,"d":4},{"l":"layer4.0.conv2","s":"n","x":1.846,"d":2.5},{"l":"layer4.0.conv2","s":"n","x":2.120,"d":1.5},{"l":"layer4.0.conv2","s":"n","x":2.667,"d":0.8},{"l":"layer4.0.conv2","s":"n","x":3.692,"d":0.5},{"l":"layer4.0.conv2","s":"n","x":4.513,"d":0.3},
{"l":"layer4.0.shortcut.0","s":"a","x":0.021,"d":0},{"l":"layer4.0.shortcut.0","s":"a","x":0.068,"d":13},{"l":"layer4.0.shortcut.0","s":"a","x":0.096,"d":25},{"l":"layer4.0.shortcut.0","s":"a","x":0.116,"d":39},{"l":"layer4.0.shortcut.0","s":"a","x":0.137,"d":56},{"l":"layer4.0.shortcut.0","s":"a","x":0.157,"d":73},{"l":"layer4.0.shortcut.0","s":"a","x":0.178,"d":78},{"l":"layer4.0.shortcut.0","s":"a","x":0.191,"d":76},{"l":"layer4.0.shortcut.0","s":"a","x":0.219,"d":66},{"l":"layer4.0.shortcut.0","s":"a","x":0.239,"d":56},{"l":"layer4.0.shortcut.0","s":"a","x":0.267,"d":38},{"l":"layer4.0.shortcut.0","s":"a","x":0.294,"d":23},{"l":"layer4.0.shortcut.0","s":"a","x":0.328,"d":10},{"l":"layer4.0.shortcut.0","s":"a","x":0.362,"d":3},{"l":"layer4.0.shortcut.0","s":"a","x":0.410,"d":0},
{"l":"layer4.0.shortcut.0","s":"n","x":0.752,"d":0},{"l":"layer4.0.shortcut.0","s":"n","x":0.807,"d":2},{"l":"layer4.0.shortcut.0","s":"n","x":0.841,"d":6},{"l":"layer4.0.shortcut.0","s":"n","x":0.875,"d":13},{"l":"layer4.0.shortcut.0","s":"n","x":0.909,"d":23},{"l":"layer4.0.shortcut.0","s":"n","x":0.944,"d":36},{"l":"layer4.0.shortcut.0","s":"n","x":0.971,"d":50},{"l":"layer4.0.shortcut.0","s":"n","x":0.991,"d":62},{"l":"layer4.0.shortcut.0","s":"n","x":1.012,"d":73},{"l":"layer4.0.shortcut.0","s":"n","x":1.046,"d":86},{"l":"layer4.0.shortcut.0","s":"n","x":1.080,"d":91},{"l":"layer4.0.shortcut.0","s":"n","x":1.115,"d":95},{"l":"layer4.0.shortcut.0","s":"n","x":1.149,"d":93},{"l":"layer4.0.shortcut.0","s":"n","x":1.183,"d":86},{"l":"layer4.0.shortcut.0","s":"n","x":1.231,"d":76},{"l":"layer4.0.shortcut.0","s":"n","x":1.279,"d":66},{"l":"layer4.0.shortcut.0","s":"n","x":1.313,"d":58},{"l":"layer4.0.shortcut.0","s":"n","x":1.354,"d":50},{"l":"layer4.0.shortcut.0","s":"n","x":1.402,"d":41},{"l":"layer4.0.shortcut.0","s":"n","x":1.450,"d":33},{"l":"layer4.0.shortcut.0","s":"n","x":1.484,"d":25},{"l":"layer4.0.shortcut.0","s":"n","x":1.518,"d":18},{"l":"layer4.0.shortcut.0","s":"n","x":1.559,"d":11},{"l":"layer4.0.shortcut.0","s":"n","x":1.607,"d":6},{"l":"layer4.0.shortcut.0","s":"n","x":1.675,"d":4},{"l":"layer4.0.shortcut.0","s":"n","x":1.778,"d":2.5},{"l":"layer4.0.shortcut.0","s":"n","x":1.915,"d":1.5},{"l":"layer4.0.shortcut.0","s":"n","x":2.154,"d":0.8},{"l":"layer4.0.shortcut.0","s":"n","x":2.407,"d":0.4},
{"l":"layer4.1.conv1","s":"a","x":0.048,"d":0},{"l":"layer4.1.conv1","s":"a","x":0.068,"d":4},{"l":"layer4.1.conv1","s":"a","x":0.089,"d":12},{"l":"layer4.1.conv1","s":"a","x":0.116,"d":30},{"l":"layer4.1.conv1","s":"a","x":0.137,"d":48},{"l":"layer4.1.conv1","s":"a","x":0.157,"d":62},{"l":"layer4.1.conv1","s":"a","x":0.171,"d":74},{"l":"layer4.1.conv1","s":"a","x":0.191,"d":77},{"l":"layer4.1.conv1","s":"a","x":0.212,"d":68},{"l":"layer4.1.conv1","s":"a","x":0.226,"d":58},{"l":"layer4.1.conv1","s":"a","x":0.253,"d":45},{"l":"layer4.1.conv1","s":"a","x":0.287,"d":32},{"l":"layer4.1.conv1","s":"a","x":0.321,"d":18},{"l":"layer4.1.conv1","s":"a","x":0.356,"d":8},{"l":"layer4.1.conv1","s":"a","x":0.390,"d":3},{"l":"layer4.1.conv1","s":"a","x":0.424,"d":0},
{"l":"layer4.1.conv1","s":"n","x":0.821,"d":0},{"l":"layer4.1.conv1","s":"n","x":0.875,"d":2},{"l":"layer4.1.conv1","s":"n","x":0.923,"d":6},{"l":"layer4.1.conv1","s":"n","x":0.971,"d":12},{"l":"layer4.1.conv1","s":"n","x":1.012,"d":20},{"l":"layer4.1.conv1","s":"n","x":1.046,"d":29},{"l":"layer4.1.conv1","s":"n","x":1.108,"d":40},{"l":"layer4.1.conv1","s":"n","x":1.162,"d":49},{"l":"layer4.1.conv1","s":"n","x":1.217,"d":58},{"l":"layer4.1.conv1","s":"n","x":1.279,"d":66},{"l":"layer4.1.conv1","s":"n","x":1.320,"d":71},{"l":"layer4.1.conv1","s":"n","x":1.354,"d":74},{"l":"layer4.1.conv1","s":"n","x":1.402,"d":75},{"l":"layer4.1.conv1","s":"n","x":1.450,"d":76},{"l":"layer4.1.conv1","s":"n","x":1.491,"d":84},{"l":"layer4.1.conv1","s":"n","x":1.538,"d":92},{"l":"layer4.1.conv1","s":"n","x":1.586,"d":91},{"l":"layer4.1.conv1","s":"n","x":1.641,"d":91},{"l":"layer4.1.conv1","s":"n","x":1.696,"d":93},{"l":"layer4.1.conv1","s":"n","x":1.757,"d":92},{"l":"layer4.1.conv1","s":"n","x":1.805,"d":94},{"l":"layer4.1.conv1","s":"n","x":1.846,"d":96},{"l":"layer4.1.conv1","s":"n","x":1.915,"d":95},{"l":"layer4.1.conv1","s":"n","x":1.969,"d":94},{"l":"layer4.1.conv1","s":"n","x":2.031,"d":94},{"l":"layer4.1.conv1","s":"n","x":2.079,"d":90},{"l":"layer4.1.conv1","s":"n","x":2.120,"d":86},{"l":"layer4.1.conv1","s":"n","x":2.168,"d":84},{"l":"layer4.1.conv1","s":"n","x":2.209,"d":82},{"l":"layer4.1.conv1","s":"n","x":2.311,"d":78},{"l":"layer4.1.conv1","s":"n","x":2.414,"d":74},{"l":"layer4.1.conv1","s":"n","x":2.530,"d":70},{"l":"layer4.1.conv1","s":"n","x":2.667,"d":66},{"l":"layer4.1.conv1","s":"n","x":2.803,"d":61},{"l":"layer4.1.conv1","s":"n","x":2.940,"d":56},{"l":"layer4.1.conv1","s":"n","x":3.097,"d":51},{"l":"layer4.1.conv1","s":"n","x":3.234,"d":45},{"l":"layer4.1.conv1","s":"n","x":3.371,"d":39},{"l":"layer4.1.conv1","s":"n","x":3.542,"d":31},{"l":"layer4.1.conv1","s":"n","x":3.713,"d":22},{"l":"layer4.1.conv1","s":"n","x":3.829,"d":18},{"l":"layer4.1.conv1","s":"n","x":3.966,"d":14},{"l":"layer4.1.conv1","s":"n","x":4.103,"d":11},{"l":"layer4.1.conv1","s":"n","x":4.239,"d":8},{"l":"layer4.1.conv1","s":"n","x":4.376,"d":5},{"l":"layer4.1.conv1","s":"n","x":4.513,"d":3},{"l":"layer4.1.conv1","s":"n","x":4.718,"d":1.5},{"l":"layer4.1.conv1","s":"n","x":5.060,"d":0.8},{"l":"layer4.1.conv1","s":"n","x":5.607,"d":0.5},{"l":"layer4.1.conv1","s":"n","x":6.140,"d":0.4},
{"l":"layer4.1.conv2","s":"a","x":0.068,"d":0},{"l":"layer4.1.conv2","s":"a","x":0.109,"d":4},{"l":"layer4.1.conv2","s":"a","x":0.150,"d":14},{"l":"layer4.1.conv2","s":"a","x":0.191,"d":28},{"l":"layer4.1.conv2","s":"a","x":0.226,"d":38},{"l":"layer4.1.conv2","s":"a","x":0.253,"d":44},{"l":"layer4.1.conv2","s":"a","x":0.274,"d":49},{"l":"layer4.1.conv2","s":"a","x":0.294,"d":52},{"l":"layer4.1.conv2","s":"a","x":0.315,"d":48},{"l":"layer4.1.conv2","s":"a","x":0.328,"d":41},{"l":"layer4.1.conv2","s":"a","x":0.362,"d":32},{"l":"layer4.1.conv2","s":"a","x":0.397,"d":24},{"l":"layer4.1.conv2","s":"a","x":0.424,"d":18},{"l":"layer4.1.conv2","s":"a","x":0.465,"d":10},{"l":"layer4.1.conv2","s":"a","x":0.513,"d":5},{"l":"layer4.1.conv2","s":"a","x":0.568,"d":2},{"l":"layer4.1.conv2","s":"a","x":0.629,"d":0},
{"l":"layer4.1.conv2","s":"n","x":0.957,"d":0},{"l":"layer4.1.conv2","s":"n","x":1.162,"d":0.5},{"l":"layer4.1.conv2","s":"n","x":1.347,"d":2},{"l":"layer4.1.conv2","s":"n","x":1.436,"d":4},{"l":"layer4.1.conv2","s":"n","x":1.504,"d":7},{"l":"layer4.1.conv2","s":"n","x":1.573,"d":12},{"l":"layer4.1.conv2","s":"n","x":1.641,"d":18},{"l":"layer4.1.conv2","s":"n","x":1.689,"d":23},{"l":"layer4.1.conv2","s":"n","x":1.764,"d":32},{"l":"layer4.1.conv2","s":"n","x":1.846,"d":42},{"l":"layer4.1.conv2","s":"n","x":1.935,"d":52},{"l":"layer4.1.conv2","s":"n","x":2.031,"d":62},{"l":"layer4.1.conv2","s":"n","x":2.106,"d":70},{"l":"layer4.1.conv2","s":"n","x":2.188,"d":78},{"l":"layer4.1.conv2","s":"n","x":2.256,"d":85},{"l":"layer4.1.conv2","s":"n","x":2.325,"d":90},{"l":"layer4.1.conv2","s":"n","x":2.393,"d":94},{"l":"layer4.1.conv2","s":"n","x":2.441,"d":96},{"l":"layer4.1.conv2","s":"n","x":2.516,"d":95},{"l":"layer4.1.conv2","s":"n","x":2.598,"d":93},{"l":"layer4.1.conv2","s":"n","x":2.701,"d":91},{"l":"layer4.1.conv2","s":"n","x":2.803,"d":89},{"l":"layer4.1.conv2","s":"n","x":2.940,"d":84},{"l":"layer4.1.conv2","s":"n","x":3.097,"d":78},{"l":"layer4.1.conv2","s":"n","x":3.234,"d":72},{"l":"layer4.1.conv2","s":"n","x":3.371,"d":66},{"l":"layer4.1.conv2","s":"n","x":3.542,"d":57},{"l":"layer4.1.conv2","s":"n","x":3.713,"d":48},{"l":"layer4.1.conv2","s":"n","x":3.829,"d":44},{"l":"layer4.1.conv2","s":"n","x":3.966,"d":40},{"l":"layer4.1.conv2","s":"n","x":4.103,"d":37},{"l":"layer4.1.conv2","s":"n","x":4.239,"d":35},{"l":"layer4.1.conv2","s":"n","x":4.376,"d":32},{"l":"layer4.1.conv2","s":"n","x":4.465,"d":30},{"l":"layer4.1.conv2","s":"n","x":4.602,"d":30},{"l":"layer4.1.conv2","s":"n","x":4.718,"d":28},{"l":"layer4.1.conv2","s":"n","x":4.923,"d":27},{"l":"layer4.1.conv2","s":"n","x":5.197,"d":27},{"l":"layer4.1.conv2","s":"n","x":5.607,"d":27},{"l":"layer4.1.conv2","s":"n","x":5.880,"d":26},{"l":"layer4.1.conv2","s":"n","x":6.140,"d":26}
]},
"facet":{"row":{"field":"l","type":"nominal","title":null,
  "sort":["conv1","layer1.0.conv1","layer1.0.conv2","layer1.1.conv1","layer1.1.conv2","layer2.0.conv1","layer2.0.conv2","layer2.0.shortcut.0","layer2.1.conv1","layer2.1.conv2","layer3.0.conv1","layer3.0.conv2","layer3.0.shortcut.0","layer3.1.conv1","layer3.1.conv2","layer4.0.conv1","layer4.0.conv2","layer4.0.shortcut.0","layer4.1.conv1","layer4.1.conv2"],
  "header":{"title":null,"labels":false}}},
"spacing":0,
"spec":{
  "width":898,"height":26,
  "encoding":{
    "x":{"field":"x","type":"quantitative","scale":{"domain":[0,6.14],"nice":false,"zero":false},
      "axis":{"values":[0,1.228,2.456,3.684,4.912,6.14],"format":".3f","labelFont":"Liberation Serif","labelFontSize":30,"labelColor":"black","tickColor":"black","tickSize":5,"domain":false,"grid":false,"labelFlush":false,"offset":-11,"labelPadding":4,"title":"ℓ₂ ratio","titleFont":"Liberation Serif","titleFontSize":30,"titleFontWeight":"normal","titleColor":"black","titlePadding":2}},
    "y":{"field":"d","type":"quantitative","scale":{"domain":[0,26],"range":[10,-16],"nice":false,"zero":false},
      "axis":{"values":[0],"grid":true,"gridColor":"#b3b3b3","gridWidth":1.5,"labels":false,"ticks":false,"domain":false,"title":null}}
  },
  "layer":[
    {"transform":[{"filter":"datum.s == 'a'"}],"mark":{"type":"area","fillOpacity":0.8},
     "encoding":{"fill":{"field":"l","type":"nominal","legend":null,"scale":{"domain":["conv1","layer1.0.conv1","layer1.0.conv2","layer1.1.conv1","layer1.1.conv2","layer2.0.conv1","layer2.0.conv2","layer2.0.shortcut.0","layer2.1.conv1","layer2.1.conv2","layer3.0.conv1","layer3.0.conv2","layer3.0.shortcut.0","layer3.1.conv1","layer3.1.conv2","layer4.0.conv1","layer4.0.conv2","layer4.0.shortcut.0","layer4.1.conv1","layer4.1.conv2"],"range":["#a83703","#b23a02","#bc3e02","#c74202","#d14501","#da4902","#df5005","#e45709","#e85d0d","#ed6410","#f26a15","#f4721d","#f67925","#f9802d","#fb8735","#fd8e3e","#fd9547","#fd9c51","#fda25a","#fda963"]}}}},
    {"transform":[{"filter":"datum.s == 'a'"}],"mark":{"type":"line","color":"#1e2b38","strokeWidth":1.2,"opacity":0.9}},
    {"transform":[{"filter":"datum.s == 'n'"}],"mark":{"type":"area","fillOpacity":0.8},
     "encoding":{"color":{"field":"l","type":"nominal","legend":null,"scale":{"domain":["conv1","layer1.0.conv1","layer1.0.conv2","layer1.1.conv1","layer1.1.conv2","layer2.0.conv1","layer2.0.conv2","layer2.0.shortcut.0","layer2.1.conv1","layer2.1.conv2","layer3.0.conv1","layer3.0.conv2","layer3.0.shortcut.0","layer3.1.conv1","layer3.1.conv2","layer4.0.conv1","layer4.0.conv2","layer4.0.shortcut.0","layer4.1.conv1","layer4.1.conv2"],"range":["#084a92","#09529d","#0e59a2","#1460a8","#1967ad","#1f6eb3","#2676b7","#2d7dbb","#3585bf","#3c8cc3","#4493c7","#4d99ca","#56a0ce","#5fa6d1","#68acd5","#73b2d8","#7fb9da","#8abfdd","#95c5df","#a0cbe2"]}}}},
    {"transform":[{"filter":"datum.s == 'n'"}],"mark":{"type":"line","color":"#1e2b38","strokeWidth":1.2,"opacity":0.9}},
    {"transform":[{"filter":"datum.s == 'a' && datum.d == 0 && datum.x < 0.1"}],
     "mark":{"type":"text","align":"right","baseline":"middle","dx":-5,"dy":3,"font":"Liberation Serif","fontSize":31,"fill":"black"},
     "encoding":{"text":{"field":"l","type":"nominal"},"x":{"datum":0},"y":{"datum":0}}},
    {"transform":[{"filter":"datum.d < 0"}],"mark":{"type":"point","filled":false,"strokeWidth":9},
     "encoding":{"stroke":{"field":"s","type":"nominal","scale":{"domain":["a","n"],"range":["#ec6519","#3e8fc5"]},
       "legend":{"title":null,"orient":"none","legendX":-253,"legendY":-146,"direction":"vertical","symbolType":"circle","symbolSize":70,"symbolOpacity":1,"symbolStrokeWidth":9,"symbolOffset":18,"labelOffset":43,"labelFont":"Liberation Serif","labelFontSize":31,"labelColor":"black","labelLimit":400,"labelExpr":"datum.label == 'a' ? 'All adversarial' : 'All natural'","rowPadding":0,"padding":10,"fillColor":"rgba(255,255,255,0.8)","strokeColor":"#d0d0d0","cornerRadius":6,"zindex":1}}}}
  ]
},
"config":{"view":{"stroke":null}}
}
